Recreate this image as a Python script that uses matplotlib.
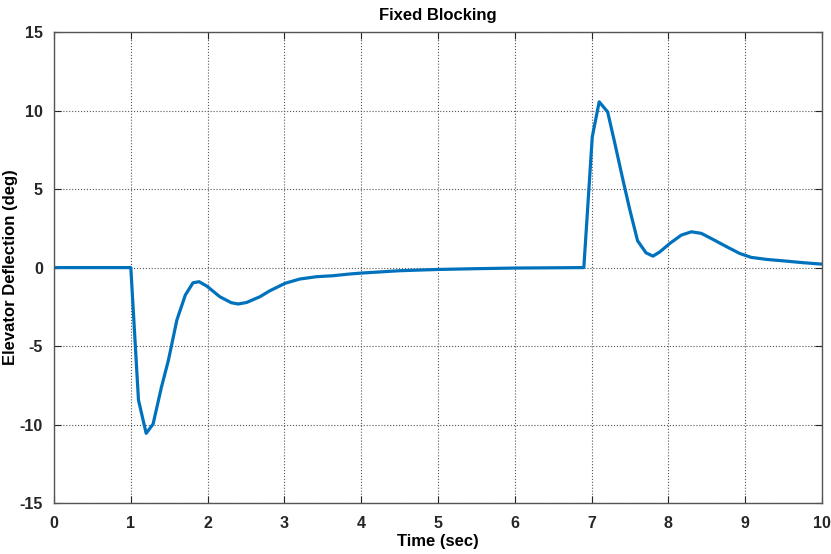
import matplotlib
matplotlib.use('Agg')
import matplotlib.pyplot as plt

plt.rcParams['font.family'] = ['Liberation Sans', 'DejaVu Sans']
plt.rcParams['font.weight'] = 'bold'
plt.rcParams['axes.unicode_minus'] = False

# elevator response
time = [0.0, 1.0, 1.10, 1.20, 1.29, 1.40, 1.49, 1.60, 1.71, 1.81, 1.89, 1.99,
        2.16, 2.31, 2.40, 2.51, 2.68, 2.81, 3.01, 3.20, 3.42, 3.63, 3.85, 4.0,
        4.5, 5.0, 5.5, 6.0, 6.90, 7.01, 7.10, 7.21, 7.30, 7.41, 7.50, 7.60,
        7.71, 7.80, 7.89, 8.02, 8.17, 8.30, 8.43, 8.58, 8.76, 8.93, 9.08, 9.28,
        9.54, 9.76, 10.0]
deflection = [0.0, 0.0, -8.44, -10.56, -9.97, -7.6, -5.9, -3.34, -1.75, -0.97, -0.9, -1.18,
              -1.86, -2.24, -2.32, -2.22, -1.86, -1.48, -1.0, -0.73, -0.58, -0.52, -0.41, -0.35,
              -0.2, -0.12, -0.07, -0.03, 0.0, 8.33, 10.56, 9.92, 8.0, 5.57, 3.66, 1.71,
              0.94, 0.73, 1.0, 1.54, 2.07, 2.28, 2.18, 1.8, 1.33, 0.9, 0.65, 0.52,
              0.41, 0.31, 0.22]

xticks = list(range(0, 11))
yticks = [-15, -10, -5, 0, 5, 10, 15]

fig = plt.figure(figsize=(8.31, 5.54), dpi=100)
ax = fig.add_axes([0.065, 0.092, 0.924, 0.850])

ax.plot(time, deflection, color='#0072BD', linewidth=2.3)

ax.set_xlim(0, 10)
ax.set_ylim(-15, 15)
ax.set_xticks(xticks)
ax.set_yticks(yticks)
ax.tick_params(direction='in', top=True, right=True, length=5, labelsize=11.5,
               colors='#262626', pad=8)
ax.tick_params(axis='x', pad=9)
ax.grid(True, linestyle=':', color='#555555', linewidth=0.8)
for s in ax.spines.values():
    s.set_color('#555555')
    s.set_linewidth(1.0)

ax.set_title('Fixed Blocking', fontsize=12, fontweight='bold', pad=9)
ax.set_xlabel('Time (sec)', fontsize=12, fontweight='bold')
ax.set_ylabel('Elevator Deflection (deg)', fontsize=12, fontweight='bold')
ax.xaxis.set_label_coords(0.5, -0.066)
ax.yaxis.set_label_coords(-0.047, 0.5)

fig.savefig('out.png', dpi=100)
